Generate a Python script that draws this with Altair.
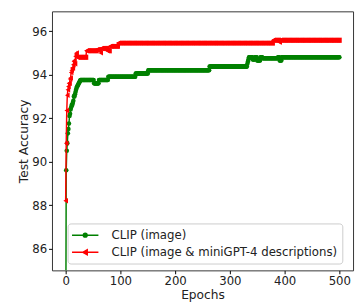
import altair as alt
import pandas as pd

# Run-length readings (epoch where a value starts, value held until next start)
green_start = [0, 1, 2, 3, 4, 5, 6, 7, 8, 9, 10, 11, 13, 14, 15, 17, 18, 19, 20,
               21, 22, 23, 24, 25, 26, 27, 52, 61, 78, 128, 151, 263, 332, 333,
               334, 335, 342, 346, 350, 356, 360, 388, 391, 395]
green_value = [80.0, 89.6, 90.5, 90.85, 91.3, 91.5, 91.75, 92.1, 92.2, 92.4, 92.5,
               92.6, 92.7, 92.8, 93.0, 93.1, 93.2, 93.3, 93.4, 93.45, 93.5, 93.55,
               93.6, 93.65, 93.7, 93.75, 93.6, 93.75, 93.9, 94.05, 94.2, 94.37,
               94.5, 94.6, 94.7, 94.8, 94.7, 94.8, 94.65, 94.8, 94.75, 94.8,
               94.65, 94.8]

red_start = [0, 1, 2, 3, 4, 5, 6, 8, 9, 10, 11, 12, 14, 15, 16, 17, 18, 19, 20,
             21, 38, 57, 64, 65, 76, 81, 96, 379, 390, 392]
red_value = [88.2, 90.85, 92.35, 93.05, 93.3, 93.45, 93.6, 93.8, 93.85, 94.1,
             94.2, 94.3, 94.45, 94.6, 94.65, 94.5, 94.85, 94.95, 95.0, 94.8,
             95.1, 95.15, 95.0, 95.2, 95.1, 95.3, 95.45, 95.58, 95.5, 95.58]

last_epoch = 500
series_names = ["CLIP (image)", "CLIP (image & miniGPT-4 descriptions)"]
series_colors = ["green", "red"]
x_ticks = [0, 100, 200, 300, 400, 500]
y_ticks = [86, 88, 90, 92, 94, 96]

# legend symbols: line segment plus marker
legend_paths = [
    "M-2.25,0L2.25,0M-0.32,0A0.32,0.32,0,1,0,0.32,0A0.32,0.32,0,1,0,-0.32,0Z",
    "M-2.25,0L2.25,0M-0.42,0L0.34,-0.42L0.34,0.42Z",
]


def expand(starts, values, name):
    rows = []
    bounds = starts[1:] + [last_epoch + 1]
    for s, e, v in zip(starts, bounds, values):
        for ep in range(s, e):
            rows.append({"epoch": ep, "acc": v, "series": name})
    return rows


df = pd.DataFrame(expand(green_start, green_value, series_names[0]) +
                  expand(red_start, red_value, series_names[1]))

font = "DejaVu Sans"
x_enc = alt.X("epoch:Q", scale=alt.Scale(domain=[-25, 525], nice=False, zero=False),
              axis=alt.Axis(values=x_ticks, title="Epochs", grid=False, domain=False,
                            tickSize=3.5, tickColor="black", labelPadding=2,
                            labelFontSize=12, titleFontSize=12.5, titlePadding=2,
                            labelFont=font, titleFont=font, labelColor="#222",
                            titleColor="#222", titleFontWeight="normal"))
y_enc = alt.Y("acc:Q", scale=alt.Scale(domain=[85.0, 96.91], nice=False, zero=False),
              axis=alt.Axis(values=y_ticks, title="Test Accuracy", grid=False, domain=False,
                            tickSize=3.5, tickColor="black", labelPadding=2,
                            labelFontSize=12, titleFontSize=12.5, titlePadding=1,
                            labelFont=font, titleFont=font, labelColor="#222",
                            titleColor="#222", titleFontWeight="normal"))

base = alt.Chart(df)

layers = []
shapes = ["circle", "triangle-left"]
sizes = [22, 30]
for name, col, shp, sz in zip(series_names, series_colors, shapes, sizes):
    sub = base.transform_filter(alt.datum.series == name)
    layers.append(sub.mark_line(color=col, strokeWidth=1.5, clip=True).encode(x=x_enc, y=y_enc))
    layers.append(sub.mark_point(shape=shp, filled=True, size=sz, color=col, opacity=1,
                                 clip=True).encode(x=x_enc, y=y_enc))

leg = alt.Legend(orient="none", legendX=16, legendY=217, title=None, padding=5,
                 fillColor="rgba(255,255,255,0.8)", strokeColor="#cccccc",
                 cornerRadius=3, symbolSize=144, symbolStrokeWidth=1.5,
                 symbolOpacity=1, labelFontSize=12, labelFont=font, labelColor="#222",
                 labelLimit=0, symbolOffset=6, labelOffset=20, rowPadding=4.5)

legend_layer = base.mark_point(opacity=0, clip=True).encode(
    x=x_enc, y=y_enc,
    fill=alt.Fill("series:N", scale=alt.Scale(domain=series_names, range=series_colors), legend=leg),
    stroke=alt.Stroke("series:N", scale=alt.Scale(domain=series_names, range=series_colors), legend=leg),
    shape=alt.Shape("series:N", scale=alt.Scale(domain=series_names, range=legend_paths), legend=leg),
)
layers.append(legend_layer)

chart = alt.layer(*layers).properties(
    width=308, height=265,
    autosize=alt.AutoSizeParams(type="none"),
    padding={"left": 45, "top": 0, "right": 2, "bottom": 32},
).configure_view(stroke="#333333", strokeWidth=1)

chart.save("out.html", embed_options={"renderer": "svg", "actions": False})
